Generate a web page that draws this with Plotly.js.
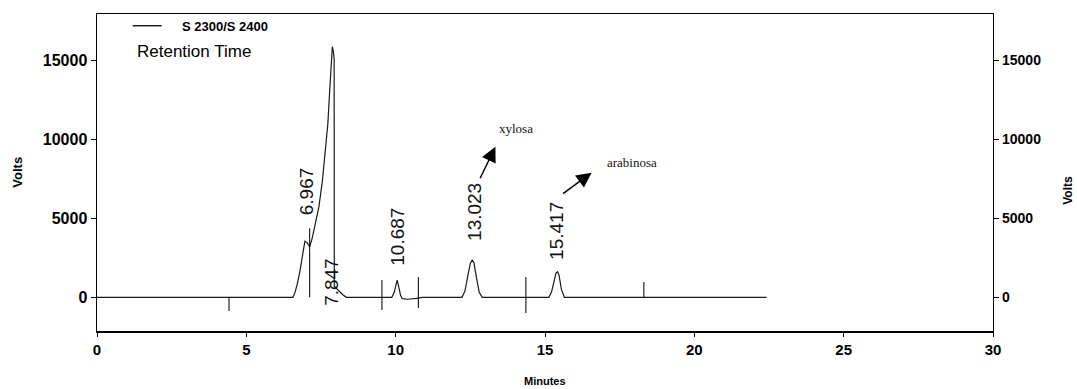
<!DOCTYPE html>
<html>
<head>
<meta charset="utf-8">
<script src="https://cdn.plot.ly/plotly-3.0.1.min.js"></script>
<style>html,body{margin:0;padding:0;background:#fff;}#chart{width:1077px;height:389px;}</style>
</head>
<body>
<div id="chart"></div>
<script>
// Chromatogram trace (minutes, volts)
const time = [0, 6.56, 6.62, 6.70, 6.79, 6.88, 6.96, 7.04, 7.12, 7.20, 7.29, 7.43, 7.55, 7.63, 7.68, 7.73, 7.78, 7.82, 7.85, 7.88, 7.91, 7.94, 7.945, 8.00, 8.07, 8.15, 8.24, 8.35,
  9.87, 9.95, 10.00, 10.05, 10.10, 10.16, 10.22, 10.40, 10.70, 10.90,
  12.22, 12.32, 12.42, 12.50, 12.56, 12.62, 12.70, 12.80, 12.90,
  15.13, 15.22, 15.30, 15.37, 15.42, 15.47, 15.55, 15.65, 22.42];
const volts = [0, 0, 250, 800, 1600, 2700, 3550, 3450, 3200, 3700, 4470, 5730, 7420, 8900, 9960, 11000, 12700, 13900, 15230, 15860, 15600, 15100, 700, 600, 460, 280, 150, 0,
  0, 300, 800, 1095, 700, 150, -80, -120, -60, 0,
  0, 400, 1400, 2150, 2360, 2200, 1300, 300, 0,
  0, 350, 1100, 1550, 1620, 1400, 500, 0, 0];

// Integration marks (vertical ticks)
const markTime = [4.42, 7.12, 9.54, 10.76, 14.36, 18.31];
const markLow  = [-870, 0, -800, -680, -990, 0];
const markHigh = [0, 4380, 1095, 1285, 1285, 970];

// Retention time labels
const peakLabels = ['6.967', '7.847', '10.687', '13.023', '15.417'];
const labelTime  = [7.04, 7.83, 10.07, 12.62, 15.40];
const labelVolts = [6730, 970, 3820, 5400, 4200];

// Sugar arrows
const sugarNames = ['xylosa', 'arabinosa'];
const arrowTime  = [13.34, 16.56];
const arrowVolts = [9530, 7890];

const xTicks = [0, 5, 10, 15, 20, 25, 30];
const yTicks = [0, 5000, 10000, 15000];
const yTickText = ['0', '5000', '10000', '15000'];
const seriesName = 'S 2300/S 2400';

const mx = [], my = [];
for (let i = 0; i < markTime.length; i++) {
  mx.push(markTime[i], markTime[i], null);
  my.push(markLow[i], markHigh[i], null);
}

const SANS = 'Liberation Sans, Arial, sans-serif';
const SERIF = 'Liberation Serif, Times New Roman, serif';
const yr = [-2130, 17930];

const traces = [
  {x: time, y: volts, type: 'scatter', mode: 'lines', line: {color: '#1a1a1a', width: 1.2}, name: seriesName, showlegend: false, hoverinfo: 'skip'},
  {x: mx, y: my, type: 'scatter', mode: 'lines', line: {color: '#111', width: 1.1}, yaxis: 'y2', showlegend: false, hoverinfo: 'skip'}
];

const ann = [];
for (let i = 0; i < peakLabels.length; i++) {
  ann.push({x: labelTime[i], y: labelVolts[i], xref: 'x', yref: 'y', text: peakLabels[i], showarrow: false, textangle: -90,
    font: {family: SANS, size: 19, color: '#111'}, xanchor: 'center', yanchor: 'middle'});
}
for (let i = 0; i < sugarNames.length; i++) {
  ann.push({x: arrowTime[i], y: arrowVolts[i], xref: 'x', yref: 'y', text: '', showarrow: true,
    arrowhead: 2, arrowsize: 2, arrowwidth: 1.5, arrowcolor: '#000', ax: i === 0 ? -16 : -30, ay: i === 0 ? 33 : 22});
}
ann.push({x: 0.446, y: 0.640, xref: 'paper', yref: 'paper', text: sugarNames[0], showarrow: false, xanchor: 'left', yanchor: 'middle', font: {family: SERIF, size: 13, color: '#111'}});
ann.push({x: 0.5666, y: 0.531, xref: 'paper', yref: 'paper', text: sugarNames[1], showarrow: false, xanchor: 'left', yanchor: 'middle', font: {family: SERIF, size: 13, color: '#111'}});
ann.push({x: 0.0421, y: 0.881, xref: 'paper', yref: 'paper', text: 'Retention Time', showarrow: false, xanchor: 'left', yanchor: 'middle', font: {family: SANS, size: 17, color: '#000'}});
ann.push({x: 0.0923, y: 0.962, xref: 'paper', yref: 'paper', text: seriesName, showarrow: false, xanchor: 'left', yanchor: 'middle', font: {family: SANS, size: 13, color: '#000', weight: 'bold'}});
ann.push({x: -0.0885, y: 0.5016, xref: 'paper', yref: 'paper', text: 'Volts', showarrow: false, textangle: -90, xanchor: 'center', yanchor: 'middle', font: {family: SANS, size: 13, color: '#000', weight: 'bold'}});
ann.push({x: 1.0835, y: 0.4448, xref: 'paper', yref: 'paper', text: 'Volts', showarrow: false, textangle: -90, xanchor: 'center', yanchor: 'middle', font: {family: SANS, size: 12, color: '#000', weight: 'bold'}});
ann.push({x: 0.5, y: -0.158, xref: 'paper', yref: 'paper', text: 'Minutes', showarrow: false, xanchor: 'center', yanchor: 'middle', font: {family: SANS, size: 11, color: '#000', weight: 'bold'}});

const layout = {
  width: 1077, height: 389,
  margin: {l: 97, r: 84, t: 14, b: 58},
  paper_bgcolor: '#fff', plot_bgcolor: '#fff',
  showlegend: false,
  xaxis: {range: [0, 30], tickvals: xTicks, ticks: 'outside', ticklen: 4, tickcolor: '#000', showline: true, linecolor: '#000', linewidth: 1.5, mirror: true,
    showgrid: false, zeroline: false, tickfont: {family: SANS, size: 15, color: '#000', weight: 'bold'}},
  yaxis: {range: yr, tickvals: yTicks, ticktext: yTickText, ticks: 'outside', ticklen: 5, tickcolor: '#000', showline: true, linecolor: '#000', linewidth: 1.5,
    showgrid: false, zeroline: false, tickfont: {family: SANS, size: 16, color: '#000', weight: 'bold'}},
  yaxis2: {range: yr, overlaying: 'y', side: 'right', tickvals: yTicks, ticktext: yTickText, ticks: 'outside', ticklen: 5, tickcolor: '#000', showline: true, linecolor: '#000', linewidth: 1.2,
    showgrid: false, zeroline: false, tickfont: {family: SANS, size: 14, color: '#000', weight: 'bold'}},
  shapes: [{type: 'line', xref: 'paper', yref: 'paper', x0: 0.0399, x1: 0.0722, y0: 0.963, y1: 0.963, line: {color: '#000', width: 1.3}}],
  annotations: ann
};

Plotly.newPlot('chart', traces, layout, {staticPlot: true, displayModeBar: false});
</script>
</body>
</html>
